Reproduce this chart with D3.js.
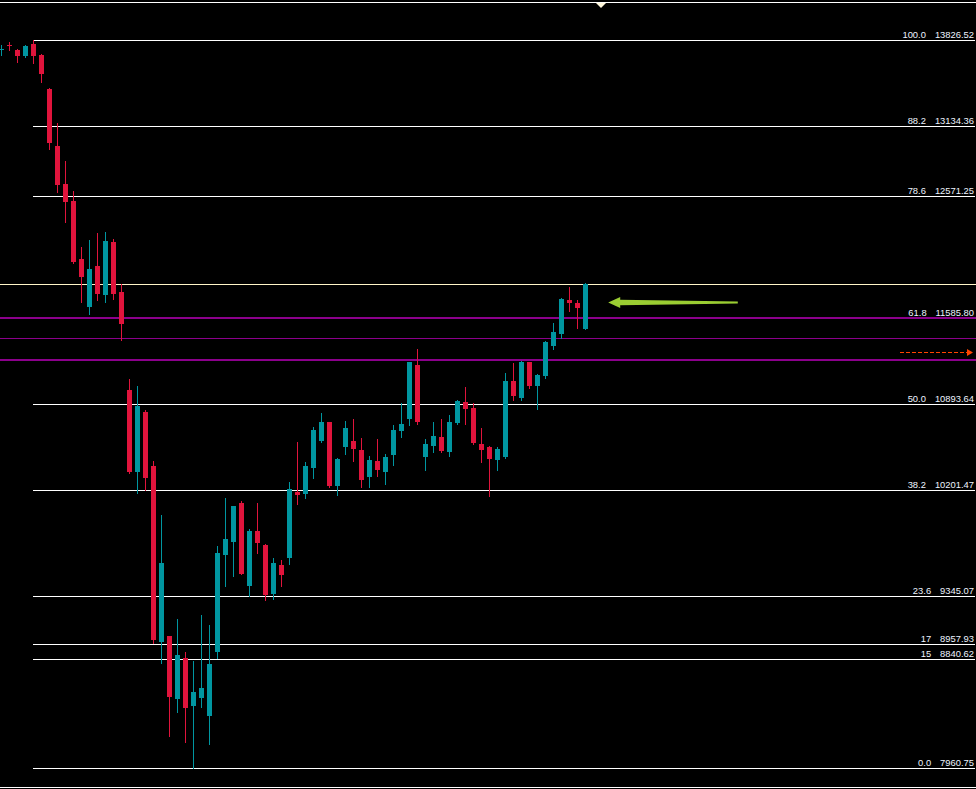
<!DOCTYPE html>
<html>
<head>
<meta charset="utf-8">
<script src="https://cdn.jsdelivr.net/npm/d3@7/dist/d3.min.js"></script>
<style>
html,body{margin:0;padding:0;background:#000;overflow:hidden;}
svg{display:block;}
</style>
</head>
<body>
<svg id="chart" width="976" height="789"></svg>
<script>
// ---- data ----
const opens  = [13742,13790,13746,13698,13794,13706,13432,12972,12666,12529,12062,11675,12006,11772,12199,11796,11006,10346,10829,10394,8976,9024,8517,8847,8460,8525,8380,8895,9677,9782,10096,9427,9870,9758,9363,9596,9653,10185,10168,10378,10596,10749,10233,10547,10596,10523,10305,10434,10346,10483,10676,10773,11208,10467,10555,10628,10507,10741,10910,10861,10571,10547,10442,10467,11079,10942,11232,11039,11119,11361,11458,11732,11707,11498];
const highs  = [13786,13810,13754,13786,13826.52,13714,13440,13158,12852,12610,12159,12215,12271,12280,12223,11861,11095,11039,10845,10434,9999,9024,9161,8895,8823,9194,9113,9749,10136,10072,10112,9886,10096,9766,9653,9637,10265,10587,10426,10708,10821,10749,10459,10757,10773,10620,10475,10612,10491,10724,10902,11232,11337,10612,10749,10773,10805,10926,11031,10902,10700,10555,10547,11143,11224,11240,11232,11135,11401,11546,11748,11836,11732,11869];
const lows   = [13706,13746,13649,13690,13641,13488,12948,12602,12360,12030,11715,11619,11732,11715,11740,11409,10338,10177,10201,8968,8807,8219,8412,8170,7960.75,8452,8154,8847,9427,9508,9524,9347,9693,9314,9322,9427,9604,10088,10136,10297,10587,10225,10160,10491,10434,10225,10225,10314,10249,10402,10628,10724,10732,10362,10507,10507,10475,10732,10732,10571,10426,10152,10362,10459,10926,10926,11023,10853,11103,11337,11425,11643,11506,11498];
const closes = [13750,13782,13698,13778,13698,13553,12997,12658,12521,12038,11917,11981,11780,12207,11780,11538,10346,10878,10297,8992,9613,8533,8871,8444,8573,8605,8799,9693,9806,10072,9524,9870,9774,9355,9613,9516,10209,10160,10394,10684,10749,10233,10450,10700,10531,10281,10442,10362,10467,10684,10732,11232,10749,10571,10636,10515,10749,10918,10853,10579,10523,10450,10531,11079,10958,11232,11039,11127,11393,11474,11740,11707,11667,11861];

const fibLevels = ["100.0","88.2","78.6","61.8","50.0","38.2","23.6","17","15","0.0"];
const fibPrices = [13826.52,13134.36,12571.25,11585.80,10893.64,10201.47,9345.07,8957.93,8840.62,7960.75];
const fibStartIndex = 4;

const creamLevel = 11861;
const purpleLevels = [11585.80, 11425, 11248];
const purpleWidths = [2, 1, 2];
const dashedArrowPrice = 11313;
const greenArrowPrice = 11712;
const greenArrowFromIdx = 92.1;
const greenArrowToIdx = 75.9;
const shiftMarkerIdx = 75;

// ---- scales ----
const W = 976, H = 789;
const n = opens.length;
const x = d3.scaleLinear().domain([0, n - 1]).range([1, 1 + 8 * (n - 1)]);
const y = d3.scaleLinear().domain([7960.75, 13826.52]).range([768, 40]);

const svg = d3.select("#chart");
svg.append("rect").attr("width", W).attr("height", H).attr("fill", "#000");

const UP = "#0096a0", DOWN = "#e0143c";

// frame lines
svg.append("line").attr("x1", 0).attr("x2", W).attr("y1", 2.5).attr("y2", 2.5)
  .attr("stroke", "#fff").attr("stroke-width", 1);
svg.append("line").attr("x1", 0).attr("x2", W).attr("y1", 787.5).attr("y2", 787.5)
  .attr("stroke", "#fff").attr("stroke-width", 1);
// shift marker triangle
const sx = x(shiftMarkerIdx);
svg.append("path").attr("d", `M${sx-5},3 L${sx+5},3 L${sx},8 Z`).attr("fill", "#fff8dc");

// label font: narrow face if available, otherwise regular at smaller size
let labelFont = "'Liberation Sans Narrow', 'Arial Narrow', sans-serif";
let labelSize = 10.5;
{
  const t = svg.append("text").attr("font-family", labelFont).attr("font-size", labelSize).text("13826.52");
  const w = t.node().getComputedTextLength();
  t.remove();
  if (w > 39.5) { labelFont = "'Liberation Sans', Arial, sans-serif"; labelSize = 9.4; }
}

// fib lines
const fib = svg.append("g");
fibPrices.forEach((p, i) => {
  const yy = Math.round(y(p)) + 0.5;
  fib.append("line").attr("x1", x(fibStartIndex)).attr("x2", 975)
    .attr("y1", yy).attr("y2", yy).attr("stroke", "#fff").attr("stroke-width", 1);
  const v = fib.append("text").attr("x", 974).attr("y", yy - 2.5)
    .attr("text-anchor", "end").attr("fill", "#eef4ff")
    .attr("font-family", labelFont).attr("font-size", labelSize)
    .text(p.toFixed(2));
  const len = v.node().getComputedTextLength();
  fib.append("text").attr("x", 974 - len - 9).attr("y", yy - 2.5)
    .attr("text-anchor", "end").attr("fill", "#eef4ff")
    .attr("font-family", labelFont).attr("font-size", labelSize)
    .text(fibLevels[i]);
});

// cream line
svg.append("line").attr("x1", 0).attr("x2", W)
  .attr("y1", Math.round(y(creamLevel)) + 0.5).attr("y2", Math.round(y(creamLevel)) + 0.5)
  .attr("stroke", "#fff5c8").attr("stroke-width", 1);

// purple lines
purpleLevels.forEach((p, i) => {
  const w = purpleWidths[i];
  const yy = Math.round(y(p)) + (w % 2 ? 0.5 : 0);
  svg.append("line").attr("x1", 0).attr("x2", W).attr("y1", yy).attr("y2", yy)
    .attr("stroke", "#8b008b").attr("stroke-width", w);
});

// candles
const g = svg.append("g");
for (let i = 0; i < n; i++) {
  const cx = Math.round(x(i));
  const up = closes[i] >= opens[i];
  const col = up ? UP : DOWN;
  g.append("line").attr("x1", cx + 0.5).attr("x2", cx + 0.5)
    .attr("y1", Math.round(y(highs[i]))).attr("y2", Math.round(y(lows[i])) + 1)
    .attr("stroke", col).attr("stroke-width", 1);
  const top = Math.round(y(Math.max(opens[i], closes[i])));
  const bot = Math.round(y(Math.min(opens[i], closes[i])));
  g.append("rect").attr("x", cx - 2).attr("width", 5)
    .attr("y", top).attr("height", Math.max(1, bot - top))
    .attr("fill", col);
}

// dashed orange arrow
const dy = Math.round(y(dashedArrowPrice)) + 0.5;
svg.append("line").attr("x1", 900).attr("x2", 968).attr("y1", dy).attr("y2", dy)
  .attr("stroke", "#ff4500").attr("stroke-width", 1).attr("stroke-dasharray", "4,2");
svg.append("path").attr("d", `M967,${dy-3.5} L973,${dy} L967,${dy+3.5} Z`).attr("fill", "#ff4500");

// green arrow
const gy = y(greenArrowPrice);
const gx0 = x(greenArrowToIdx), gx1 = x(greenArrowFromIdx);
svg.append("path")
  .attr("d", `M${gx0},${gy} L${gx0+12},${gy-5.5} L${gx0+12},${gy-2.8} L${gx1},${gy-1} L${gx1},${gy+1} L${gx0+12},${gy+2.8} L${gx0+12},${gy+5.5} Z`)
  .attr("fill", "#9acd32");
</script>
</body>
</html>
